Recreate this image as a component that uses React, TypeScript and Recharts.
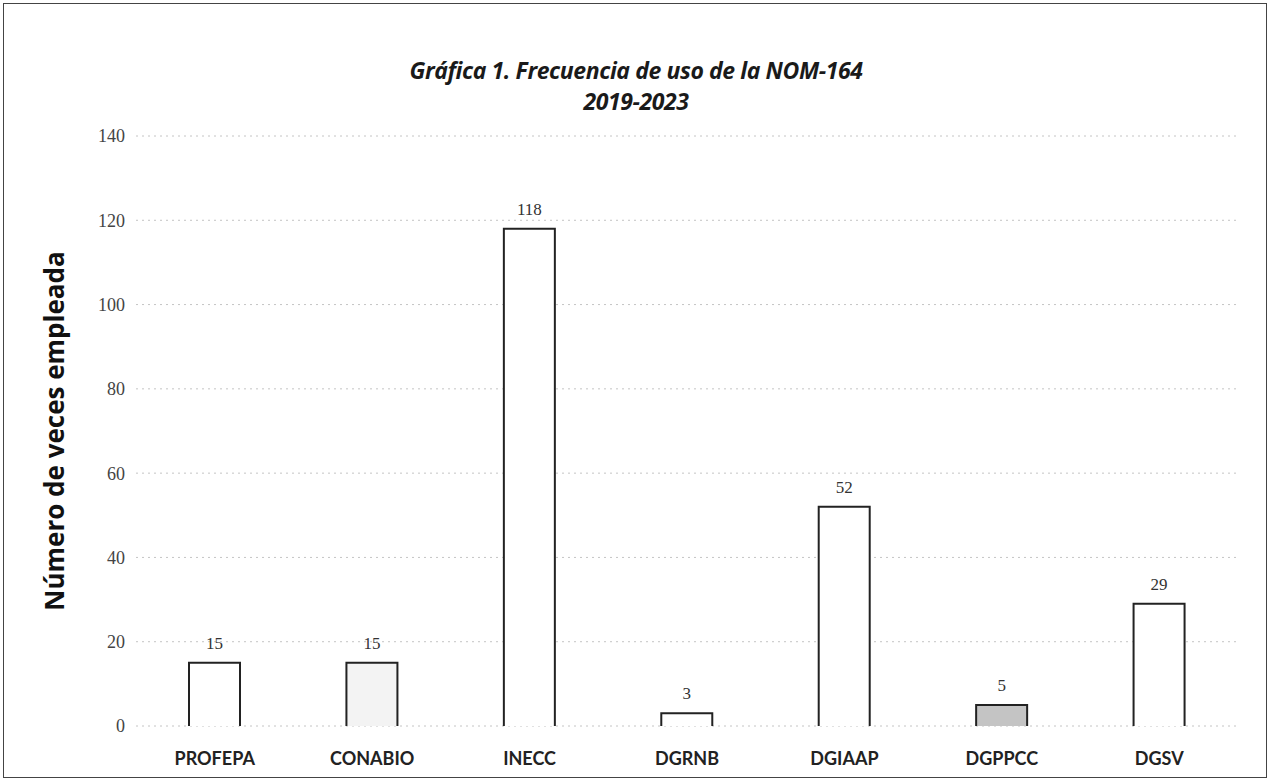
import React from 'react';
import { BarChart, Bar, XAxis, YAxis, CartesianGrid, Cell, LabelList } from 'recharts';

const categories = ['PROFEPA', 'CONABIO', 'INECC', 'DGRNB', 'DGIAAP', 'DGPPCC', 'DGSV'];
const usageCounts = [15, 15, 118, 3, 52, 5, 29];
const barFills = ['#ffffff', '#f3f3f3', '#ffffff', '#ffffff', '#ffffff', '#c4c4c4', '#ffffff'];
const yTicks = [0, 20, 40, 60, 80, 100, 120, 140];

const data = categories.map((name, i) => ({ name, value: usageCounts[i], fill: barFills[i] }));

// open-bottom bar like the scanned original
const OpenBar = (props: any) => {
  const { x, y, width, height, fill } = props;
  if (height == null || width == null) return null;
  return (
    <g>
      <rect x={x} y={y} width={width} height={height} fill={fill} />
      <path
        d={`M${x},${y + height} L${x},${y} L${x + width},${y} L${x + width},${y + height}`}
        fill="none"
        stroke="#222"
        strokeWidth={2}
      />
    </g>
  );
};

const App = () => {
  return (
    <div style={{ position: 'absolute', left: 0, top: 0, width: 1272, height: 783, background: '#fff' }}>
      <div
        style={{
          position: 'absolute', left: 3, top: 3, width: 1264, height: 775,
          border: '1.5px solid #444', boxSizing: 'border-box',
        }}
      />
      <div
        style={{
          position: 'absolute', left: 0, top: 55, width: 1272, textAlign: 'center',
          fontFamily: '"Open Sans", sans-serif', fontStyle: 'italic', fontWeight: 700,
          fontSize: 23, lineHeight: '31px', letterSpacing: -0.4, color: '#1a1a1a',
        }}
      >
        Gráfica 1. Frecuencia de uso de la NOM-164
        <br />
        2019-2023
      </div>
      <BarChart
        width={1272}
        height={783}
        data={data}
        margin={{ top: 136, right: 34, bottom: 27, left: 0 }}
        barSize={51}
        style={{ position: 'absolute', left: 0, top: 0 }}
      >
        <CartesianGrid vertical={false} stroke="#c4c4c4" strokeDasharray="2 4" />
        <XAxis
          dataKey="name"
          axisLine={false}
          tickLine={false}
          tickMargin={20}
          tick={{ fill: '#222', fontFamily: 'Lato, sans-serif', fontWeight: 700, fontSize: 18 }}
        />
        <YAxis
          width={136}
          domain={[0, 140]}
          ticks={yTicks}
          axisLine={false}
          tickLine={false}
          tickSize={0}
          tickMargin={11}
          tick={{ fill: '#444', fontFamily: '"Liberation Serif", serif', fontSize: 18 }}
          label={{
            value: 'Número de veces empleada',
            angle: -90,
            position: 'insideLeft',
            offset: 55,
            style: { textAnchor: 'middle', fill: '#111', fontFamily: '"Open Sans", sans-serif', fontWeight: 700, fontSize: 26 },
          }}
        />
        <Bar dataKey="value" isAnimationActive={false} shape={<OpenBar />}>
          {data.map((d, i) => (
            <Cell key={`cell-${i}`} fill={d.fill} />
          ))}
          <LabelList
            dataKey="value"
            position="top"
            offset={14}
            style={{ fill: '#333', fontFamily: '"Liberation Serif", serif', fontSize: 17 }}
          />
        </Bar>
      </BarChart>
    </div>
  );
};

export default App;
